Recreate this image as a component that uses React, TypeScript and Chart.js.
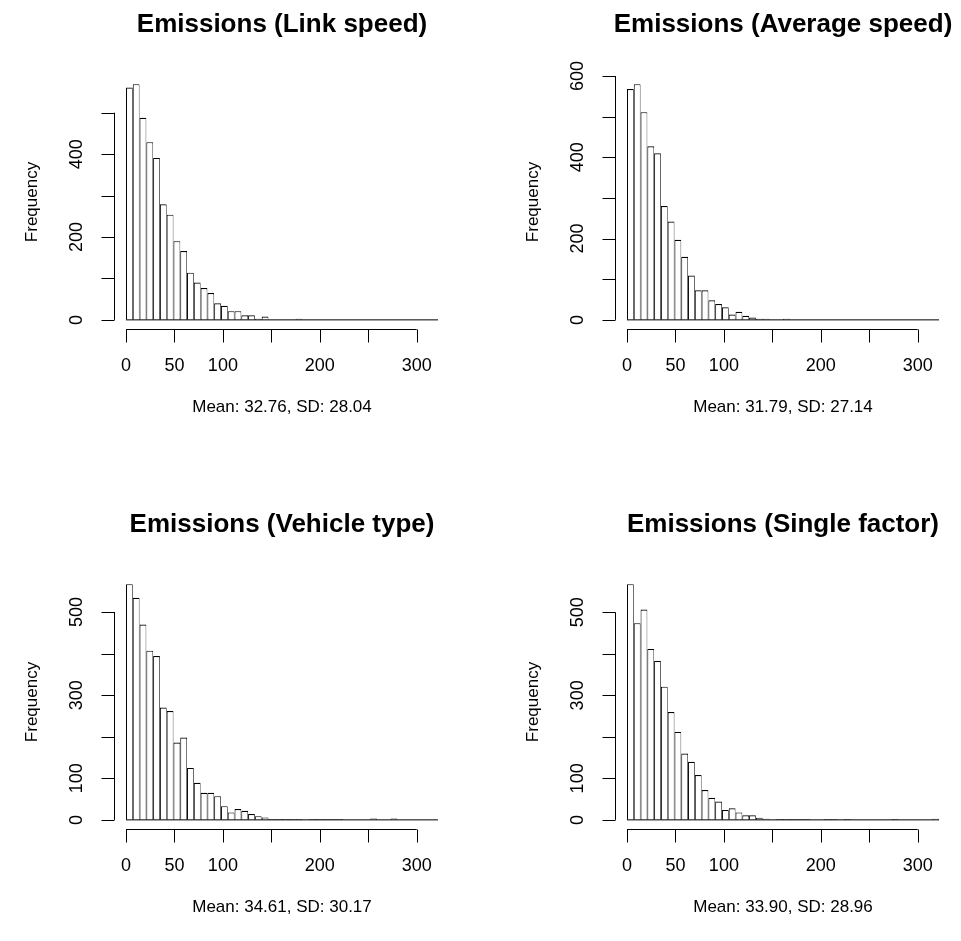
import React, { useEffect, useRef } from "react";
import { Chart, registerables } from "chart.js";

Chart.register(...registerables);

// ---- data ----
const BIN_START = 0;
const BIN_WIDTH = 7;
const BIN_COUNT = 46;

const linkSpeedCounts = [
  561, 569, 488, 429, 391, 279, 254, 190, 166, 114, 90, 77, 65, 40, 34, 21, 21, 11, 11, 3, 8,
  0, 0, 0, 0, 3, 0, 0, 0, 0, 0, 0, 0, 0, 0, 0, 0, 0, 0, 0, 0, 0, 0, 0, 0, 0,
];
const averageSpeedCounts = [
  568, 580, 511, 427, 410, 280, 242, 197, 155, 109, 73, 73, 48, 39, 31, 13, 20, 10, 6, 3, 3,
  0, 0, 3, 0, 0, 0, 0, 0, 0, 0, 0, 0, 0, 0, 0, 0, 0, 0, 0, 0, 0, 0, 0, 0, 0,
];
const vehicleTypeCounts = [
  567, 534, 470, 407, 394, 270, 262, 186, 198, 125, 89, 65, 65, 57, 33, 18, 26, 22, 14, 9, 6,
  2, 2, 2, 2, 2, 0, 2, 2, 2, 2, 2, 0, 0, 0, 0, 3, 0, 0, 3, 0, 0, 0, 0, 0, 0,
];
const singleFactorCounts = [
  568, 474, 507, 412, 383, 321, 260, 212, 160, 140, 108, 72, 53, 44, 24, 28, 18, 11, 11, 5, 3,
  0, 2, 2, 2, 2, 2, 0, 0, 2, 2, 0, 2, 0, 0, 0, 0, 0, 0, 2, 0, 0, 0, 0, 0, 3,
];

const xTickValues = [0, 50, 100, 150, 200, 250, 300];
const xTickLabels = ["0", "50", "100", "", "200", "", "300"];

const yTicks500 = [0, 100, 200, 300, 400, 500];
const yTicks600 = [0, 100, 200, 300, 400, 500, 600];
const yLabelsEven500 = ["0", "", "200", "", "400", ""];
const yLabelsEven600 = ["0", "", "200", "", "400", "", "600"];
const yLabelsOdd500 = ["0", "100", "", "300", "", "500"];

const titles = [
  "Emissions (Link speed)",
  "Emissions (Average speed)",
  "Emissions (Vehicle type)",
  "Emissions (Single factor)",
];
const subtitles = [
  "Mean: 32.76, SD: 28.04",
  "Mean: 31.79, SD: 27.14",
  "Mean: 34.61, SD: 30.17",
  "Mean: 33.90, SD: 28.96",
];
const yAxisTitle = "Frequency";

// ---- layout ----
const W = 460;
const H = 441;
const PAD = { left: 113.5, top: 74.7, right: 9.5, bottom: 111.7 };
const FONT = "'Liberation Sans', Arial, sans-serif";

type Panel = {
  title: string;
  subtitle: string;
  counts: number[];
  yTicks: number[];
  yLabels: string[];
  left: number;
  top: number;
};

const panels: Panel[] = [
  { title: titles[0], subtitle: subtitles[0], counts: linkSpeedCounts, yTicks: yTicks500, yLabels: yLabelsEven500, left: 0, top: 0 },
  { title: titles[1], subtitle: subtitles[1], counts: averageSpeedCounts, yTicks: yTicks600, yLabels: yLabelsEven600, left: 501, top: 0 },
  { title: titles[2], subtitle: subtitles[2], counts: vehicleTypeCounts, yTicks: yTicks500, yLabels: yLabelsOdd500, left: 0, top: 500 },
  { title: titles[3], subtitle: subtitles[3], counts: singleFactorCounts, yTicks: yTicks500, yLabels: yLabelsOdd500, left: 501, top: 500 },
];

function HistPanel({ p }: { p: Panel }) {
  const ref = useRef<HTMLCanvasElement | null>(null);
  useEffect(() => {
    const canvas = ref.current;
    if (!canvas) return;
    const edgeLo = BIN_START;
    const edgeHi = BIN_START + BIN_WIDTH * BIN_COUNT;
    const xExt = 0.04 * (edgeHi - edgeLo);
    const maxCount = Math.max(...p.counts);
    const data = p.counts.map((c, i) => ({ x: BIN_START + BIN_WIDTH * (i + 0.5), y: c }));

    const rStyle = {
      id: "rStyle",
      afterDraw(chart: any) {
        const ctx: CanvasRenderingContext2D = chart.ctx;
        const xs = chart.scales.x;
        const ys = chart.scales.y;
        const a = chart.chartArea;
        ctx.save();
        ctx.strokeStyle = "#000";
        ctx.fillStyle = "#000";
        ctx.lineWidth = 1;
        // bar baseline (zero-height bins)
        const y0 = ys.getPixelForValue(0);
        ctx.beginPath();
        ctx.moveTo(xs.getPixelForValue(edgeLo), y0);
        ctx.lineTo(xs.getPixelForValue(edgeHi), y0);
        ctx.stroke();

        // x axis
        const ax = Math.round(a.bottom) + 0.5;
        const tick = 13;
        ctx.beginPath();
        ctx.moveTo(xs.getPixelForValue(xTickValues[0]), ax);
        ctx.lineTo(xs.getPixelForValue(xTickValues[xTickValues.length - 1]), ax);
        xTickValues.forEach((v) => {
          const px = Math.round(xs.getPixelForValue(v)) + 0.5;
          ctx.moveTo(px, ax);
          ctx.lineTo(px, ax + tick);
        });
        ctx.stroke();
        ctx.font = `18px ${FONT}`;
        ctx.textAlign = "center";
        ctx.textBaseline = "middle";
        xTickValues.forEach((v, i) => {
          if (xTickLabels[i]) ctx.fillText(xTickLabels[i], xs.getPixelForValue(v), a.bottom + 37);
        });

        // y axis
        const ay = Math.round(a.left) + 0.5;
        ctx.beginPath();
        ctx.moveTo(ay, ys.getPixelForValue(p.yTicks[0]));
        ctx.lineTo(ay, ys.getPixelForValue(p.yTicks[p.yTicks.length - 1]));
        p.yTicks.forEach((v) => {
          const py = Math.round(ys.getPixelForValue(v)) + 0.5;
          ctx.moveTo(ay, py);
          ctx.lineTo(ay - tick, py);
        });
        ctx.stroke();
        p.yTicks.forEach((v, i) => {
          if (!p.yLabels[i]) return;
          ctx.save();
          ctx.translate(a.left - 36, ys.getPixelForValue(v));
          ctx.rotate(-Math.PI / 2);
          ctx.fillText(p.yLabels[i], 0, 0);
          ctx.restore();
        });

        // axis titles
        const cx = (a.left + a.right) / 2;
        const cy = (a.top + a.bottom) / 2;
        ctx.font = `17px ${FONT}`;
        ctx.fillText(p.subtitle, cx, a.bottom + 78);
        ctx.save();
        ctx.translate(a.left - 81, cy);
        ctx.rotate(-Math.PI / 2);
        ctx.fillText(yAxisTitle, 0, 0);
        ctx.restore();

        // main title
        ctx.font = `bold 26px ${FONT}`;
        ctx.textBaseline = "alphabetic";
        ctx.fillText(p.title, cx, 32);
        ctx.restore();
      },
    };

    const chart = new Chart(canvas, {
      type: "bar",
      data: {
        datasets: [
          {
            data,
            backgroundColor: "#ffffff",
            borderColor: "#000000",
            borderWidth: { top: 1.2, left: 1, right: 0.75, bottom: 0 } as any,
            borderSkipped: false,
            inflateAmount: 0,
            barPercentage: 1,
            categoryPercentage: 1,
          } as any,
        ],
      },
      options: {
        animation: false,
        responsive: false,
        devicePixelRatio: 1,
        events: [],
        layout: { padding: PAD },
        plugins: { legend: { display: false }, tooltip: { enabled: false }, title: { display: false } },
        scales: {
          x: {
            type: "linear",
            display: false,
            offset: false,
            min: edgeLo - xExt,
            max: edgeHi + xExt,
          },
          y: {
            type: "linear",
            display: false,
            min: -0.04 * maxCount,
            max: 1.04 * maxCount,
          },
        },
      } as any,
      plugins: [rStyle],
    });
    return () => chart.destroy();
  }, [p]);
  return (
    <canvas
      ref={ref}
      width={W}
      height={H}
      style={{ position: "absolute", left: p.left, top: p.top, width: W, height: H }}
    />
  );
}

export default function App() {
  return (
    <div style={{ position: "absolute", left: 0, top: 0, width: 961, height: 941, background: "#fff", overflow: "hidden" }}>
      {panels.map((p, i) => (
        <HistPanel key={i} p={p} />
      ))}
    </div>
  );
}
